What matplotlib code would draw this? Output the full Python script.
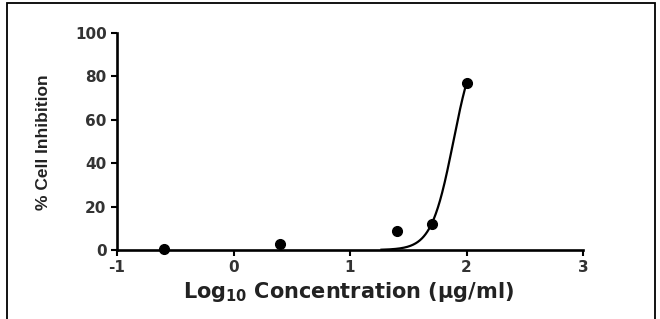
import numpy as np
import matplotlib
matplotlib.use("Agg")
import matplotlib.pyplot as plt
from matplotlib.patches import Rectangle

plt.rcParams['font.family'] = ['DejaVu Sans']
plt.rcParams['mathtext.fontset'] = 'custom'
plt.rcParams['mathtext.rm'] = 'DejaVu Sans'
plt.rcParams['mathtext.bf'] = 'DejaVu Sans:bold'

# measured points
log_conc = [-0.6, 0.4, 1.4, 1.7, 2.0]
inhibition = [0.6, 2.6, 8.8, 12.2, 77.0]

# sigmoidal fit (bottom 0, top 100)
log_ic50 = 1.887
hill_slope = 4.63
fit_start = 1.27
fit_end = 2.0

xticks = [-1, 0, 1, 2, 3]
yticks = [0, 20, 40, 60, 80, 100]

fig = plt.figure(figsize=(6.6, 3.19), dpi=100)
ax = fig.add_axes([117/660, 1 - 250/319, (583 - 117)/660, (250 - 33)/319])

xf = np.linspace(fit_start, fit_end, 200)
yf = 100 / (1 + 10 ** ((log_ic50 - xf) * hill_slope))
ax.plot(xf, yf, color='black', lw=1.6, zorder=3)
ax.plot(log_conc, inhibition, 'o', color='black', ms=7, zorder=4, clip_on=False)

ax.set_xlim(-1, 3)
ax.set_ylim(0, 100)
ax.set_xticks(xticks)
ax.set_yticks(yticks)
ax.set_xticklabels([str(t) for t in xticks])
ax.set_yticklabels([str(t) for t in yticks])

for s in ['top', 'right']:
    ax.spines[s].set_visible(False)
for s in ['left', 'bottom']:
    ax.spines[s].set_linewidth(1.9)
ax.tick_params(direction='out', length=4, width=1.5, labelsize=11,
               colors='black', labelcolor='#333333')
for lab in ax.get_xticklabels() + ax.get_yticklabels():
    lab.set_fontweight('bold')

fig.text(349/660, 1 - 292/319, r'Log$_{\mathregular{10}}$ Concentration (µg/ml)',
         ha='center', va='center', fontsize=15, fontweight='bold', color='#222222')
fig.text(44/660, 1 - 142/319, '% Cell Inhibition', rotation=90,
         family='Liberation Sans',
         ha='center', va='center', fontsize=12.5, fontweight='bold', color='#222222')

# outer frame
fig.patches.append(Rectangle((7/660, -0.1), (655 - 7)/660, 1.1 - 3/319,
                             transform=fig.transFigure, fill=False,
                             edgecolor='black', lw=1.3))

fig.savefig('out.png', dpi=100)
